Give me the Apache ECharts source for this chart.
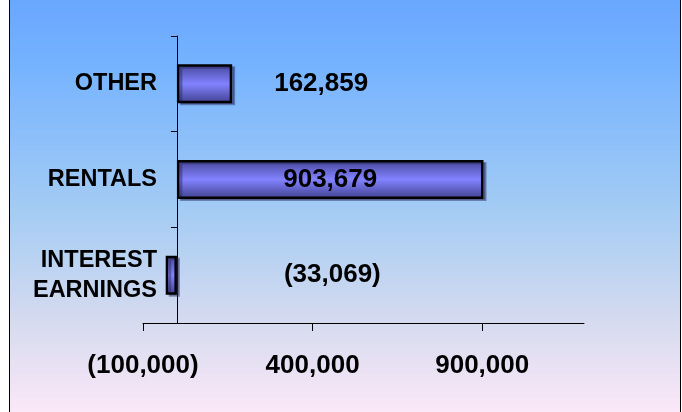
<!DOCTYPE html>
<html>
<head>
<meta charset="utf-8">
<script src="https://cdn.jsdelivr.net/npm/echarts@6/dist/echarts.min.js"></script>
<style>
  html, body { margin: 0; padding: 0; background: #fff; }
  #chart { width: 682px; height: 412px; }
</style>
</head>
<body>
<div id="chart"></div>
<script>
const categories = ['INTEREST\nEARNINGS', 'RENTALS', 'OTHER'];
const values = [-33069, 903679, 162859];
const xTicks = [-100000, 400000, 900000];
const xMin = -100000;
const xMax = 1200000;

const font = '"Liberation Sans", Arial, sans-serif';

function fmt(v) {
  const s = Math.abs(v).toLocaleString('en-US');
  return v < 0 ? '(' + s + ')' : s;
}

// label placement per bar, like the original
const labelPos = [
  { position: 'right', distance: 107 },
  { position: 'inside' },
  { position: 'right', distance: 42 }
];

const chart = echarts.init(document.getElementById('chart'));

const barFill = new echarts.graphic.LinearGradient(0, 0, 0, 1, [
  { offset: 0, color: '#46469a' },
  { offset: 0.5, color: '#8282ff' },
  { offset: 1, color: '#40408e' }
]);

chart.setOption({
  animation: false,
  graphic: [
    {
      type: 'rect',
      z: -10,
      shape: { x: 9.5, y: -2, width: 671, height: 416 },
      style: {
        stroke: '#000',
        lineWidth: 1,
        fill: new echarts.graphic.LinearGradient(0, 0, 0, 1, [
          { offset: 0, color: '#69a6ff' },
          { offset: 0.15, color: '#74b2ff' },
          { offset: 0.5, color: '#a2cbf4' },
          { offset: 0.78, color: '#d6dbef' },
          { offset: 1, color: '#fce8f8' }
        ])
      }
    }
  ],
  grid: { left: 143, right: 98, top: 36, bottom: 89, outerBoundsMode: 'none', containLabel: false },
  xAxis: {
    type: 'value',
    min: xMin,
    max: xMax,
    interval: 500000,
    splitLine: { show: false },
    axisLine: { show: true, onZero: false, lineStyle: { color: '#000', width: 1 } },
    axisTick: { show: true, customValues: xTicks, length: 8, lineStyle: { color: '#000' } },
    axisLabel: {
      customValues: xTicks,
      formatter: fmt,
      margin: 30,
      color: '#000',
      fontFamily: font,
      fontWeight: 'bold',
      fontSize: 26
    }
  },
  yAxis: {
    type: 'category',
    data: categories,
    axisLine: { show: true, onZero: true, lineStyle: { color: '#000', width: 1 } },
    axisTick: { show: true, length: 6, lineStyle: { color: '#000' } },
    axisLabel: {
      margin: -14,
      color: '#000',
      fontFamily: font,
      fontWeight: 'bold',
      fontSize: 23.5,
      lineHeight: 30
    }
  },
  series: [
    {
      type: 'bar',
      barWidth: 39,
      data: values.map((v, i) => ({ value: v, label: labelPos[i] })),
      itemStyle: {
        color: barFill,
        borderColor: '#000',
        borderWidth: 2.5,
        shadowColor: 'rgba(40,40,90,0.45)',
        shadowOffsetX: 3,
        shadowOffsetY: 2,
        shadowBlur: 0
      },
      label: {
        show: true,
        formatter: p => fmt(p.value),
        color: '#000',
        fontFamily: font,
        fontWeight: 'bold',
        fontSize: 26
      }
    }
  ]
});
</script>
</body>
</html>
